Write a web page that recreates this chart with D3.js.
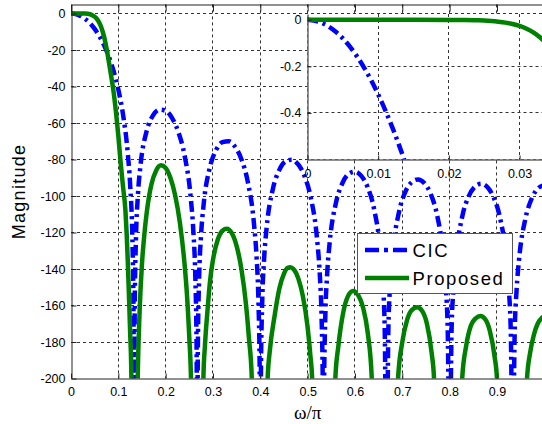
<!DOCTYPE html>
<html>
<head>
<meta charset="utf-8">
<script src="https://cdn.jsdelivr.net/npm/d3@7"></script>
<style>
  body { margin: 0; background: #fff; }
  text { font-family: "Liberation Sans", Arial, sans-serif; }
</style>
</head>
<body>
<div id="chart"></div>
<script>
// Tick values
const mainXTicks = [0, 0.1, 0.2, 0.3, 0.4, 0.5, 0.6, 0.7, 0.8, 0.9];
const mainYTicks = [0, -20, -40, -60, -80, -100, -120, -140, -160, -180, -200];
const insetXTicks = [0, 0.01, 0.02, 0.03];
const insetYTicks = [0, -0.2, -0.4];
const seriesNames = ["CIC", "Proposed"];

// CIC magnitude (dB), [w/pi, dB]
const cicMain = [
  [0, 0], [0.01, -0.32], [0.02, -1.29], [0.03, -2.93], [0.04, -5.28], [0.05, -8.41],
  [0.06, -12.41], [0.07, -17.42], [0.08, -23.67], [0.09, -31.54], [0.1, -41.67],
  [0.11, -55.46], [0.12, -76.7], [0.125, -94.06], [0.13, -127.1], [0.132, -159.4], [0.1333, -250],
  [0.13467, -160.1], [0.13733, -122.6], [0.14133, -99.7], [0.14667, -83.6], [0.16, -64.2],
  [0.17333, -55.8], [0.18667, -52.7], [0.2, -53.3], [0.21333, -57.2], [0.22667, -64.8],
  [0.24, -77.8], [0.25333, -101.9], [0.25867, -120.0], [0.26267, -144.4], [0.26533, -182.9], [0.26667, -250],
  [0.268, -183.2], [0.27067, -145.4], [0.27467, -122.0], [0.28, -105.2], [0.29333, -84.4],
  [0.30667, -74.7], [0.32, -70.5], [0.33333, -70.0], [0.34667, -73.0], [0.36, -79.8],
  [0.37333, -92.0], [0.38667, -115.4], [0.392, -133.2], [0.396, -157.4], [0.39867, -195.8], [0.4, -250],
  [0.40133, -196.0], [0.404, -158.0], [0.408, -134.4], [0.41333, -117.4], [0.42667, -96.0],
  [0.44, -85.8], [0.45333, -81.0], [0.46667, -80.1], [0.48, -82.7], [0.49333, -89.0],
  [0.50667, -100.9], [0.52, -123.9], [0.52533, -141.6], [0.52933, -165.7], [0.532, -203.9], [0.53333, -250],
  [0.53467, -204.1], [0.53733, -166.1], [0.54133, -142.3], [0.54667, -125.2], [0.56, -103.5],
  [0.57333, -93.0], [0.58667, -87.9], [0.6, -86.7], [0.61333, -89.0], [0.62667, -95.1],
  [0.64, -106.7], [0.65333, -129.5], [0.65867, -147.0], [0.66267, -171.1], [0.66667, -250],
  [0.67067, -171.3], [0.67467, -147.5], [0.68, -130.3], [0.69333, -108.4], [0.70667, -97.6],
  [0.72, -92.4], [0.73333, -90.9], [0.74667, -93.0], [0.76, -98.9], [0.77333, -110.3],
  [0.78667, -132.9], [0.792, -150.4], [0.796, -174.4], [0.8, -250],
  [0.804, -174.5], [0.808, -150.7], [0.81333, -133.4], [0.82667, -111.2], [0.84, -100.3],
  [0.85333, -94.9], [0.86667, -93.3], [0.88, -95.2], [0.89333, -101.0], [0.90667, -112.2],
  [0.92, -134.6], [0.92533, -152.0], [0.92933, -176.0], [0.93333, -250],
  [0.93733, -176.0], [0.94133, -152.1], [0.94667, -134.8], [0.96, -112.5], [0.97333, -101.4],
  [0.98667, -95.8], [1.0, -94.1]
];

// Proposed magnitude (dB)
const proposedMain = [
  [0, 0], [0.01, 0], [0.02, -0.001], [0.025, -0.003], [0.03, -0.025], [0.035, -0.15],
  [0.04, -0.4], [0.045, -0.9], [0.05, -1.7], [0.055, -3.1], [0.06, -5.2], [0.065, -8.3],
  [0.07, -12.8], [0.075, -19], [0.08, -26.5], [0.085, -34.5], [0.09, -43], [0.095, -54],
  [0.1, -67], [0.105, -82], [0.11, -95], [0.115, -108], [0.1175, -120], [0.12, -136],
  [0.1225, -155], [0.125, -175], [0.1275, -198], [0.129, -250], [0.134, -260],
  [0.1385, -250], [0.141, -200], [0.145, -163], [0.15, -137], [0.155, -121], [0.16, -109],
  [0.165, -100], [0.17, -93.5], [0.18, -86], [0.19, -83.2], [0.2, -84.6], [0.21, -90],
  [0.22, -99.5], [0.23, -114.5], [0.24, -137.5], [0.245, -154], [0.25, -178], [0.2535, -200],
  [0.2565, -250], [0.268, -260],
  [0.2775, -250], [0.2797, -200], [0.283, -182], [0.288, -164], [0.294, -146], [0.3, -135],
  [0.31, -124], [0.32, -119], [0.329, -118], [0.34, -120.5], [0.35, -127.5], [0.36, -140],
  [0.37, -160], [0.376, -178], [0.382, -200], [0.3845, -250], [0.4, -260],
  [0.413, -250], [0.4155, -200], [0.42, -185], [0.43, -166], [0.44, -151], [0.45, -142.5],
  [0.458, -139.3], [0.463, -139], [0.47, -140], [0.48, -145], [0.49, -155], [0.5, -172],
  [0.506, -188], [0.5095, -200], [0.5125, -250], [0.535, -260],
  [0.556, -250], [0.5585, -200], [0.565, -182], [0.575, -164], [0.585, -155], [0.596, -152],
  [0.607, -154.5], [0.617, -161], [0.627, -175], [0.6355, -200], [0.6385, -250], [0.665, -260],
  [0.6885, -250], [0.691, -200], [0.7, -180], [0.71, -168], [0.72, -162.5], [0.7315, -161],
  [0.742, -163], [0.752, -170], [0.762, -186], [0.767, -200], [0.7695, -250], [0.8, -260],
  [0.824, -250], [0.8265, -200], [0.835, -182], [0.845, -171], [0.855, -167], [0.865, -165.8],
  [0.875, -167.5], [0.885, -174], [0.895, -188], [0.9, -200], [0.903, -250], [0.933, -260],
  [0.961, -250], [0.9635, -200], [0.97, -186], [0.978, -176], [0.986, -170], [0.994, -167], [1.0, -166]
];

// Passband detail (inset)
const cicInset = [
  [0, 0], [0.002, -0.0128], [0.004, -0.0512], [0.006, -0.1153], [0.008, -0.2051],
  [0.01, -0.3206], [0.012, -0.4621], [0.013, -0.5426], [0.014, -0.6296], [0.015, -0.7231]
];
const proposedInset = [
  [0, 0], [0.005, 0], [0.01, 0], [0.015, 0], [0.02, -0.0005], [0.022, -0.001], [0.024, -0.002],
  [0.025, -0.003], [0.026, -0.005], [0.027, -0.008], [0.028, -0.012], [0.029, -0.018],
  [0.03, -0.026], [0.031, -0.038], [0.032, -0.055], [0.033, -0.078], [0.034, -0.106], [0.035, -0.14]
];

const W = 542, H = 424;
const plot = { left: 71, right: 544.3, top: 4.4, bottom: 378.5 };
const box = { left: 307.5, right: 544.3, top: 14, bottom: 159.5 };
const blue = "#0000ff", green = "#008000";
const dashDot = "11,4.5,3,4.5";
const px = v => Math.round(v - 0.5) + 0.5;

const svg = d3.select("#chart")
  .append("svg")
  .attr("width", W)
  .attr("height", H)
  .style("display", "block");

svg.append("rect").attr("width", W).attr("height", H).attr("fill", "#fff");

// Scales
const x = d3.scaleLinear().domain([0, 1]).range([plot.left, plot.right]);
const y = d3.scaleLinear().domain([-200, 5]).range([plot.bottom, plot.top]);
const ix = d3.scaleLinear().domain([0, 0.0335]).range([box.left, box.right]);
const iy = d3.scaleLinear().domain([-0.6, 0.025]).range([box.bottom, box.top]);

const defs = svg.append("defs");
defs.append("clipPath").attr("id", "clipMain").append("rect")
  .attr("x", plot.left).attr("y", plot.top)
  .attr("width", plot.right - plot.left).attr("height", plot.bottom - plot.top);
defs.append("clipPath").attr("id", "clipInset").append("rect")
  .attr("x", box.left).attr("y", box.top)
  .attr("width", box.right - box.left).attr("height", box.bottom - box.top);

// Main grid
svg.selectAll("line.vgrid")
  .data(mainXTicks.filter(d => d > 0))
  .join("line")
  .attr("class", "vgrid")
  .attr("x1", d => px(x(d))).attr("x2", d => px(x(d)))
  .attr("y1", plot.top).attr("y2", plot.bottom)
  .attr("stroke", "#333").attr("stroke-dasharray", "3,3");

svg.selectAll("line.hgrid")
  .data(mainYTicks.filter(d => d > -200))
  .join("line")
  .attr("class", "hgrid")
  .attr("x1", plot.left).attr("x2", plot.right)
  .attr("y1", d => px(y(d))).attr("y2", d => px(y(d)))
  .attr("stroke", "#333").attr("stroke-dasharray", "3,3");

// Main curves
const line = d3.line().x(d => x(d[0])).y(d => y(d[1])).curve(d3.curveMonotoneX);
const curves = svg.append("g").attr("clip-path", "url(#clipMain)");
curves.append("path").datum(cicMain)
  .attr("d", line).attr("fill", "none")
  .attr("stroke", blue).attr("stroke-width", 4.5).attr("stroke-dasharray", dashDot);
curves.append("path").datum(proposedMain)
  .attr("d", line).attr("fill", "none")
  .attr("stroke", green).attr("stroke-width", 4.5);

// Main axes
function styleAxis(g) {
  g.select(".domain").attr("stroke", "#222");
  g.selectAll(".tick line").attr("stroke", "#222");
  g.selectAll(".tick text")
    .attr("fill", "#000")
    .style("font-size", "12.5px")
    .style("font-family", "'Liberation Sans', Arial, sans-serif");
}

svg.append("g")
  .attr("transform", `translate(${px(plot.left)},0)`)
  .call(d3.axisLeft(y).tickValues(mainYTicks).tickFormat(d => String(d)).tickSize(-5).tickSizeOuter(0).tickPadding(6))
  .call(styleAxis);

svg.append("g")
  .attr("transform", `translate(0,${px(plot.bottom)})`)
  .call(d3.axisBottom(x).tickValues(mainXTicks).tickFormat(d => String(d)).tickSize(-5).tickSizeOuter(0).tickPadding(8.5))
  .call(styleAxis);

svg.append("g")
  .attr("transform", `translate(0,${px(plot.top)})`)
  .call(d3.axisTop(x).tickValues(mainXTicks).tickFormat("").tickSize(-7).tickSizeOuter(0))
  .call(styleAxis);

// Axis labels
svg.append("text")
  .attr("x", (plot.left + plot.right) / 2)
  .attr("y", 419)
  .attr("text-anchor", "middle")
  .style("font-family", "'Liberation Serif', 'DejaVu Serif', serif")
  .style("font-size", "19px")
  .text("ω/π");

svg.append("text")
  .attr("transform", `translate(25,${(plot.top + plot.bottom) / 2}) rotate(-90)`)
  .attr("text-anchor", "middle")
  .style("font-size", "18px")
  .style("letter-spacing", "1.3px")
  .text("Magnitude");

// Inset
const inset = svg.append("g");
inset.append("rect")
  .attr("x", box.left).attr("y", box.top)
  .attr("width", box.right - box.left).attr("height", box.bottom - box.top)
  .attr("fill", "#fff");

inset.selectAll("line.ivgrid")
  .data(insetXTicks.filter(d => d > 0))
  .join("line")
  .attr("class", "ivgrid")
  .attr("x1", d => px(ix(d))).attr("x2", d => px(ix(d)))
  .attr("y1", box.top).attr("y2", box.bottom)
  .attr("stroke", "#333").attr("stroke-dasharray", "3,3");

inset.selectAll("line.ihgrid")
  .data(insetYTicks.filter(d => d < 0))
  .join("line")
  .attr("class", "ihgrid")
  .attr("x1", box.left).attr("x2", box.right)
  .attr("y1", d => px(iy(d))).attr("y2", d => px(iy(d)))
  .attr("stroke", "#333").attr("stroke-dasharray", "3,3");

const iline = d3.line().x(d => ix(d[0])).y(d => iy(d[1])).curve(d3.curveMonotoneX);
const icurves = inset.append("g").attr("clip-path", "url(#clipInset)");
icurves.append("path").datum(cicInset)
  .attr("d", iline).attr("fill", "none")
  .attr("stroke", blue).attr("stroke-width", 4.5).attr("stroke-dasharray", dashDot);
icurves.append("path").datum(proposedInset)
  .attr("d", iline).attr("fill", "none")
  .attr("stroke", green).attr("stroke-width", 4.5);

inset.append("g")
  .attr("transform", `translate(${px(box.left)},0)`)
  .call(d3.axisLeft(iy).tickValues(insetYTicks).tickFormat(d => String(d)).tickSize(-4).tickSizeOuter(0).tickPadding(6))
  .call(styleAxis);

inset.append("g")
  .attr("transform", `translate(0,${px(box.bottom)})`)
  .call(d3.axisBottom(ix).tickValues(insetXTicks).tickFormat(d => String(d)).tickSize(-4).tickSizeOuter(0).tickPadding(9.5))
  .call(styleAxis);

// Legend
const legend = svg.append("g").attr("transform", "translate(357.5,233.5)");
legend.append("rect")
  .attr("width", 155).attr("height", 60)
  .attr("fill", "#fff").attr("stroke", "#555");

legend.selectAll("line.key")
  .data(seriesNames)
  .join("line")
  .attr("class", "key")
  .attr("x1", 7.5).attr("x2", 51.5)
  .attr("y1", (d, i) => 16.5 + i * 28).attr("y2", (d, i) => 16.5 + i * 28)
  .attr("stroke", (d, i) => i === 0 ? blue : green)
  .attr("stroke-width", 4.5)
  .attr("stroke-dasharray", (d, i) => i === 0 ? "14,5,4,5,14" : null);

legend.selectAll("text.key")
  .data(seriesNames)
  .join("text")
  .attr("class", "key")
  .attr("x", 55)
  .attr("y", (d, i) => 23 + i * 28)
  .style("font-size", "18.5px")
  .style("letter-spacing", "1.6px")
  .text(d => d);
</script>
</body>
</html>
